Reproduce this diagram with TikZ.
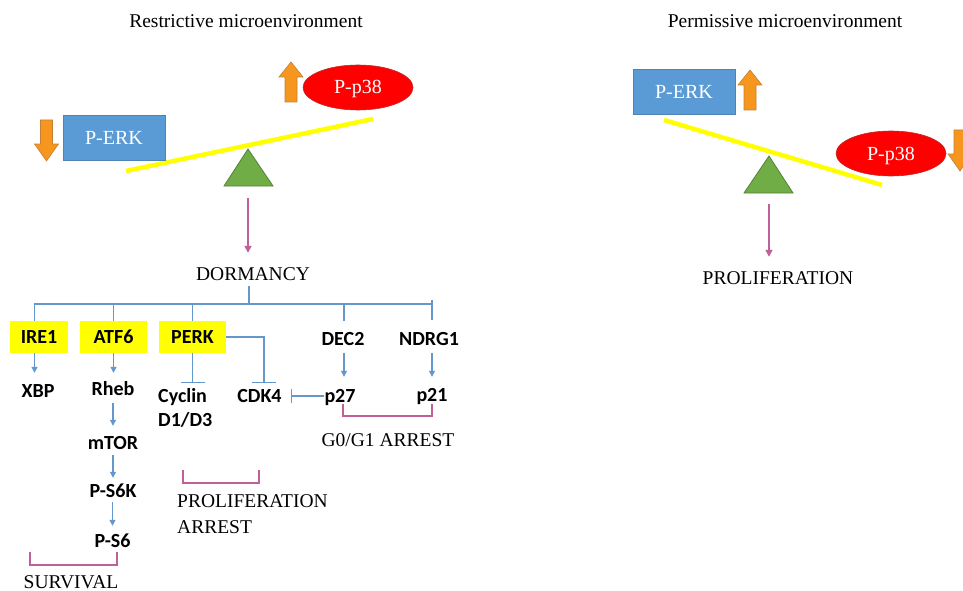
\documentclass[tikz,border=0pt]{standalone}
\usepackage{fontspec}
\setmainfont{Liberation Serif}
\newfontfamily\calib{Carlito}
\usetikzlibrary{arrows.meta,shapes.geometric}
\definecolor{boxblue}{RGB}{91,155,213}
\definecolor{lineblue}{RGB}{100,152,204}
\definecolor{pinkc}{RGB}{192,96,152}
\definecolor{orng}{RGB}{247,150,30}
\definecolor{orngd}{RGB}{196,128,52}
\definecolor{grn}{RGB}{112,173,71}
\definecolor{grnd}{RGB}{84,130,53}
\definecolor{redc}{RGB}{255,0,0}
\definecolor{redd}{RGB}{192,40,40}
\definecolor{ylw}{RGB}{255,255,0}
\tikzset{
  uparrowpic/.pic={\draw[fill=orng,draw=orngd,line width=0.6pt] (-6,20) -- (-6,-5) -- (-12,-5) -- (0,-20) -- (12,-5) -- (6,-5) -- (6,20) -- cycle;},
  downarrowpic/.pic={\draw[fill=orng,draw=orngd,line width=0.6pt] (-6,-20) -- (-6,4) -- (-12,4) -- (0,21) -- (12,4) -- (6,4) -- (6,-20) -- cycle;}
}
\begin{document}
\begin{tikzpicture}[x=1pt,y=-1pt,
  conn/.style={draw=lineblue, line width=1.2pt},
  arr/.style={conn, -{Triangle[length=6pt,width=6pt]}},
  inh/.style={conn, -{Bar[width=24pt]}},
  inhs/.style={conn, -{Bar[width=14pt]}},
  parr/.style={draw=pinkc, line width=1.6pt, -{Triangle[length=7pt,width=7pt]}},
  brk/.style={draw=pinkc, line width=1.6pt},
  lbl/.style={font=\calib\bfseries\fontsize{20}{24}\selectfont, inner sep=0pt, text height=13pt, text depth=0pt},
  lblm/.style={font=\calib\bfseries\fontsize{20}{24}\selectfont, inner sep=0pt, align=left, anchor=north west},
  ser/.style={font=\fontsize{19.5}{26}\selectfont, inner sep=0pt, text height=13pt, text depth=0pt},
  serm/.style={font=\fontsize{19.5}{26}\selectfont, inner sep=0pt, align=left, anchor=north west},
  ybox/.style={lbl, fill=ylw, minimum height=32pt},
  erkbox/.style={fill=boxblue, draw=boxblue!85!black, line width=0.5pt, minimum width=102pt, minimum height=45pt, text=white, inner sep=0pt, font=\fontsize{20}{24}\selectfont, text height=13pt, text depth=0pt},
  p38/.style={ellipse, fill=redc, draw=redd, line width=0.6pt, minimum width=110pt, minimum height=45pt, text=white, inner sep=0pt, font=\fontsize{20}{24}\selectfont, text height=13pt, text depth=0pt},
  tri/.style={fill=grn, draw=grnd, line width=0.8pt},
  beam/.style={draw=ylw, line width=4.5pt}
]
\fill[white] (0,0) rectangle (963,591);
\path[use as bounding box, clip] (0,0) rectangle (963,591);

% titles
\node[ser] (tleft) at (246,21) {Restrictive microenvironment};
\node[ser] (tright) at (785,21) {Permissive microenvironment};

% left seesaw
\draw[beam] (126,171) -- (373,119);
\draw[tri] (248,149) -- (273,186) -- (224,186) -- cycle;
\node[erkbox] (erk1) at (114,137.5) {P-ERK};
\node[p38] (p381) at (358,87.5) {P-p38};
\pic at (46.5,140) {downarrowpic};
\pic at (291,82) {uparrowpic};
\coordinate (tri1) at (248,186);
\node[ser] (dormancy) at (253,273.5) {DORMANCY};
\draw[parr, shorten <=12pt, shorten >=14pt] (tri1) -- (tri1 |- dormancy.north);

% right seesaw
\draw[beam] (664,120) -- (882,185);
\draw[tri] (769,156) -- (793,193) -- (744,193) -- cycle;
\node[erkbox] (erk2) at (684,92) {P-ERK};
\node[p38] (p382) at (891,153.5) {P-p38};
\pic at (750,90) {uparrowpic};
\pic at (960,150) {downarrowpic};
\coordinate (tri2) at (769,193);
\node[ser] (prolif) at (778,278) {PROLIFERATION};
\draw[parr, shorten <=11pt, shorten >=14.5pt] (tri2) -- (tri2 |- prolif.north);

% tree
\coordinate (bus) at (249,304);
\coordinate (ndrgbus) at (432,304);
\coordinate (ndrgtop) at (432,300);
\coordinate (ndrgin) at (432,320);
\coordinate (dec2in) at (344,321);

\node[ybox, minimum width=58pt] (ire1) at (39,337) {IRE1};
\node[ybox, minimum width=67pt] (atf6) at (113.5,337) {ATF6};
\node[ybox, minimum width=67pt] (perk) at (192.5,337) {PERK};
\node[lbl] (dec2) at (343,339) {DEC2};
\node[lbl] (ndrg1) at (429,339) {NDRG1};

\node[lbl] (xbp) at (38,391) {XBP};
\node[lbl] (rheb) at (113,389) {Rheb};
\node[lbl] (mtor) at (113,443) {mTOR};
\node[lbl] (ps6k) at (113,491) {P-S6K};
\node[lbl] (ps6) at (112.5,541) {P-S6};
\node[lblm] (cyclin) at (158,388.5) {Cyclin\\D1/D3};
\node[lbl] (cdk4) at (259.5,396) {CDK4};
\node[lbl] (p27) at (340,396) {p27};
\node[lbl] (p21) at (432,395) {p21};

\draw[conn, shorten <=6pt] (bus |- dormancy.south) -- (bus);
\draw[conn] ([xshift=-4.5pt]ire1.north) |- (ndrgbus);
\draw[conn] (ndrgtop) -- (ndrgin);
\draw[conn] (atf6.north) -- (atf6.north |- bus);
\draw[conn] (perk.north) -- (perk.north |- bus);
\draw[conn] (dec2in) -- (dec2in |- bus);

\draw[arr, shorten >=11.5pt] ([xshift=-4.5pt]ire1.south) -- ([xshift=-4.5pt]ire1.south |- xbp.north);
\draw[arr, shorten >=9.5pt] (atf6.south) -- (atf6.south |- rheb.north);
\draw[arr, shorten <=7.5pt, shorten >=10.5pt] (rheb.south) -- (mtor.north);
\draw[arr, shorten <=5.5pt, shorten >=6.5pt] (mtor.south) -- (ps6k.north);
\draw[arr, shorten <=4.5pt, shorten >=8.5pt] (ps6k.south -| ps6.south) -- (ps6.north);

\draw[inh, shorten >=5.5pt] (perk.south) -- (perk.south |- cyclin.north);
\draw[inh, shorten >=6.5pt] (perk.east) -| ([xshift=4.5pt]cdk4.north);
\draw[inhs, shorten >=9pt] (p27.west) -- (cdk4.east);

\draw[arr, shorten <=7.5pt, shorten >=12.5pt] (dec2in |- dec2.south) -- (dec2in |- p27.north);
\draw[arr, shorten <=7.5pt, shorten >=11.5pt] (ndrgin |- ndrg1.south) -- (ndrgin |- p21.north);

% brackets and outcome labels
\draw[brk] (343,404) -- (343,416) -- (432,416) -- (432,404);
\node[ser] (g0) at (388,439.5) {G0/G1 ARREST};
\draw[brk] (183,470) -- (183,483) -- (259,483) -- (259,470);
\node[serm] (parrest) at (177,494) {PROLIFERATION\\ARREST};
\draw[brk] (30,552) -- (30,565) -- (117,565) -- (117,552);
\node[ser] (survival) at (71,582) {SURVIVAL};
\end{tikzpicture}
\end{document}
